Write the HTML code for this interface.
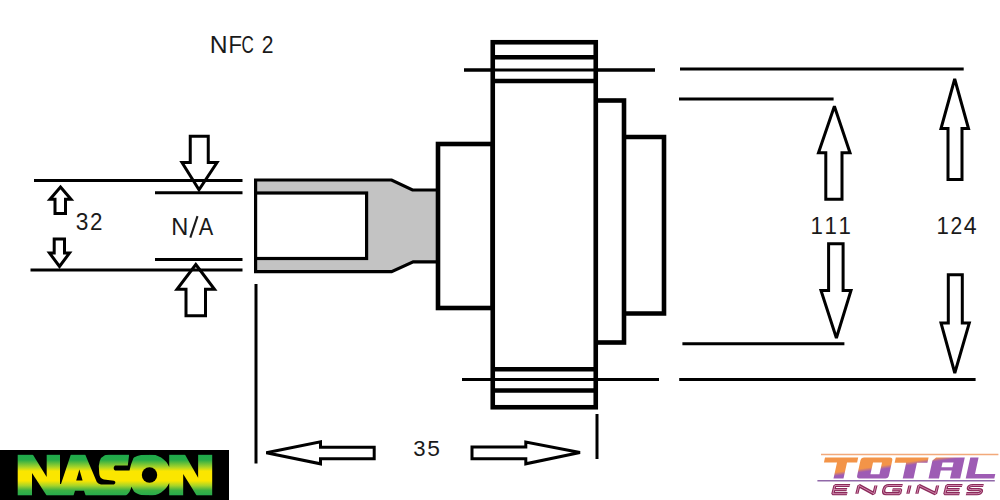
<!DOCTYPE html>
<html>
<head>
<meta charset="utf-8">
<style>
html,body{margin:0;padding:0;background:#fff;width:1000px;height:500px;overflow:hidden;}
svg{display:block;}
text{font-family:"Liberation Sans", sans-serif;fill:#1a1a1a;}
</style>
</head>
<body>
<svg width="1000" height="500" viewBox="0 0 1000 500">
<defs>
<linearGradient id="ng" gradientUnits="userSpaceOnUse" x1="0" y1="455" x2="0" y2="495.3">
<stop offset="0" stop-color="#1faa4c"/>
<stop offset="0.12" stop-color="#26ac48"/>
<stop offset="0.3" stop-color="#a8d428"/>
<stop offset="0.4" stop-color="#fbe600"/>
<stop offset="0.64" stop-color="#fbe600"/>
<stop offset="0.76" stop-color="#a8d428"/>
<stop offset="0.88" stop-color="#3cb044"/>
<stop offset="1" stop-color="#26aa4c"/>
</linearGradient>
<linearGradient id="tg" gradientUnits="userSpaceOnUse" x1="899.3" y1="454" x2="902.3" y2="474">
<stop offset="0" stop-color="#f39448"/>
<stop offset="0.42" stop-color="#f39448"/>
<stop offset="0.6" stop-color="#9e5cb4"/>
<stop offset="1" stop-color="#9e5cb4"/>
</linearGradient>
</defs>

<!-- text labels -->
<text x="209.77" y="53.37" font-size="23.7" textLength="17.84" lengthAdjust="spacingAndGlyphs">N</text><text x="228.59" y="53.37" font-size="23.7" textLength="13.5" lengthAdjust="spacingAndGlyphs">F</text><text x="241.53" y="53.37" font-size="23.7" textLength="12.32" lengthAdjust="spacingAndGlyphs">C</text><text x="261.74" y="53.37" font-size="23.7" textLength="11.72" lengthAdjust="spacingAndGlyphs">2</text>
<text x="75.83" y="230.26" font-size="24.15" textLength="12.67" lengthAdjust="spacingAndGlyphs">3</text><text x="89.97" y="230.26" font-size="24.15" textLength="12.45" lengthAdjust="spacingAndGlyphs">2</text>
<text x="171.16" y="234.5" font-size="24.8" textLength="17.07" lengthAdjust="spacingAndGlyphs">N</text><line x1="190.3" y1="237.6" x2="197.5" y2="216.2" stroke="#1a1a1a" stroke-width="2.1"/><text x="198.86" y="234.5" font-size="24.8" textLength="14.48" lengthAdjust="spacingAndGlyphs">A</text>
<text x="413.16" y="455.88" font-size="22.9" textLength="12.32" lengthAdjust="spacingAndGlyphs">3</text><text x="427.19" y="455.88" font-size="22.9" textLength="12.67" lengthAdjust="spacingAndGlyphs">5</text>
<text x="810.50" y="234.3" font-size="24.6" textLength="12.38" lengthAdjust="spacingAndGlyphs">1</text><text x="824.60" y="234.3" font-size="24.6" textLength="12.38" lengthAdjust="spacingAndGlyphs">1</text><text x="838.40" y="234.3" font-size="24.6" textLength="12.38" lengthAdjust="spacingAndGlyphs">1</text>
<text x="936.40" y="234.3" font-size="24.5" textLength="12.38" lengthAdjust="spacingAndGlyphs">1</text><text x="950.54" y="234.3" font-size="24.5" textLength="11.72" lengthAdjust="spacingAndGlyphs">2</text><text x="963.67" y="234.3" font-size="24.5" textLength="12.91" lengthAdjust="spacingAndGlyphs">4</text>

<g fill="none" stroke="#000" stroke-linecap="butt">
<!-- left dimension lines -->
<line x1="34" y1="180.5" x2="242.5" y2="180.5" stroke-width="3"/>
<line x1="155" y1="192.8" x2="242.5" y2="192.8" stroke-width="3"/>
<line x1="155" y1="259.5" x2="242.5" y2="259.5" stroke-width="3"/>
<line x1="30.5" y1="270" x2="242.5" y2="270" stroke-width="3"/>

<!-- extension verticals -->
<line x1="256" y1="284" x2="256" y2="463.5" stroke-width="3"/>
<line x1="597" y1="414" x2="597" y2="459" stroke-width="3"/>

<!-- right dimension lines -->
<line x1="680" y1="69" x2="963.7" y2="69" stroke-width="3"/>
<line x1="679" y1="99" x2="833.6" y2="99" stroke-width="3"/>
<line x1="682.4" y1="343.7" x2="844.4" y2="343.7" stroke-width="3"/>
<line x1="679.2" y1="379.5" x2="975.6" y2="379.5" stroke-width="3"/>

<!-- flange extension thin lines -->
<line x1="464" y1="70" x2="655" y2="70" stroke-width="3"/>
<line x1="462" y1="379.5" x2="659" y2="379.5" stroke-width="3"/>
</g>

<!-- gray shaft piece -->
<path d="M255.6,180 L391.6,180 L412.5,190 L438,190 L438,261.8 L413.2,261.8 L391.6,271.6 L255.6,271.6 Z" fill="#c3c3c3" stroke="#000" stroke-width="3.2" stroke-linejoin="miter"/>
<rect x="255.6" y="193" width="111" height="65.5" fill="#fff" stroke="#000" stroke-width="3.2"/>

<g fill="#fff" stroke="#000" stroke-width="4.6" stroke-linejoin="miter">
<!-- hub left -->
<rect x="438" y="144" width="54.75" height="164"/>
<!-- step 2 -->
<path d="M624,137 L664,137 L664,313.5 L624,313.5" />
<!-- step 1 -->
<rect x="595.75" y="100.5" width="28.25" height="242"/>
<!-- flange -->
<rect x="492.75" y="42.25" width="103" height="365"/>
</g>
<g stroke="#000" fill="none">
<line x1="492.75" y1="57.25" x2="595.75" y2="57.25" stroke-width="4.6"/>
<line x1="492.75" y1="81" x2="595.75" y2="81" stroke-width="4.6"/>
<line x1="492.75" y1="369.25" x2="595.75" y2="369.25" stroke-width="4.6"/>
<line x1="492.75" y1="390.5" x2="595.75" y2="390.5" stroke-width="4.6"/>
<line x1="464" y1="70" x2="655" y2="70" stroke-width="3"/>
<line x1="462" y1="379.5" x2="659" y2="379.5" stroke-width="3"/>
</g>

<!-- arrows -->
<g fill="none" stroke="#000" stroke-width="3" stroke-linejoin="miter" stroke-miterlimit="2.6">
<!-- big down arrow left -->
<path d="M190.25,136.25 L208.25,136.25 L208.25,162.6 L217,162.6 L199,189.8 L182,162.6 L190.25,162.6 Z"/>
<!-- big up arrow left -->
<path d="M195.8,264.5 L214.5,289.3 L205.5,289.3 L205.5,315.8 L186,315.8 L186,289.3 L177,289.3 Z"/>
<!-- small up arrow -->
<path d="M60.5,187 L71,199.3 L65.5,199.3 L65.5,213.5 L55,213.5 L55,199.3 L50,199.3 Z"/>
<!-- small down arrow -->
<path d="M54.2,239 L64.5,239 L64.5,253 L69.5,253 L59.5,266.5 L49.5,253 L54.2,253 Z"/>
<!-- 111 up -->
<path d="M834.4,106.3 L850,152.7 L842,152.7 L842,199.3 L825.8,199.3 L825.8,152.7 L818.5,152.7 Z"/>
<!-- 124 up -->
<path d="M954.7,79 L968.5,128.5 L962,128.5 L962,179.5 L948,179.5 L948,128.5 L941,128.5 Z"/>
<!-- 111 down -->
<path d="M828.6,243.7 L843.1,243.7 L843.1,290.5 L851,290.5 L836.4,338 L821,290.5 L828.6,290.5 Z"/>
<!-- 124 down -->
<path d="M948.3,274.7 L962.3,274.7 L962.3,323 L969.3,323 L954.8,373 L941,323 L948.3,323 Z"/>
<!-- left arrow -->
<path d="M266.3,452.8 L320.5,441.8 L320.5,447.2 L374.2,447.2 L374.2,458.8 L320.5,458.8 L320.5,463.8 Z"/>
<!-- right arrow -->
<path d="M472,447 L525.8,447 L525.8,442 L580,452.5 L525.8,463.8 L525.8,458.7 L472,458.7 Z"/>
</g>

<!-- NASON logo -->
<rect x="0" y="450" width="229" height="50" fill="#000"/>
<rect x="17.7" y="454.8" width="194.5" height="40.5" fill="url(#ng)"/>
<g fill="#000">
<path d="M32.5,454 H46.7 V477 Z"/>
<path d="M32,473 V496 H46.9 Z"/>
<path d="M60,454 H71 L61,484 H60 Z"/>
<path d="M79.4,469.5 L82.6,480.5 H76.2 Z"/>
<path d="M75,490.7 H84 L85.8,496 H73.4 Z"/>
<path d="M85,454 H109 Q99.5,455 98.8,466 L99.3,474 Q99.8,478.5 104,479.5 L114,480.8 Q116.8,482.4 114,484.4 L101,484.4 Q98,484 96.8,482 Z"/>
<path d="M129,454 H149 V454.4 C141,454.4 135.5,456 133.5,458 L131,464.4 L129.5,470.6 H115 Q112.3,468 115,465.4 H127.8 L129,455.8 Z"/>
<path d="M125,496 H149 V495.6 C141,495.6 136,493.8 134,491.5 L131.3,486.8 Q130.5,492.5 125.5,496 Z"/>
<path d="M149,454 H169.2 V466.9 A21.5,20.8 0 0,0 149,454.2 Z"/>
<path d="M149,496 H169.2 V483.1 A21.5,20.8 0 0,1 149,495.8 Z"/>
<circle cx="149.5" cy="475" r="7.7"/>
<path d="M184.7,454 H198.1 V477.8 Z"/>
<path d="M183.2,474 V496 H196.9 Z"/>
</g>

<!-- TOTAL ENGINES logo -->
<line x1="821" y1="454.4" x2="998.4" y2="454.4" stroke="#f2a97a" stroke-width="1.5"/>
<g transform="matrix(1,0,-0.22,1,105.27,0)" fill="url(#tg)">
<path d="M820.4,457.6 H853.6 V462.5 H843.5 V478.5 H833.5 V462.5 H820.4 Z"/>
<path fill-rule="evenodd" d="M859.5,457.6 H885.3 Q888.3,457.6 888.3,460.6 V475.5 Q888.3,478.5 885.3,478.5 H859.5 Q856.5,478.5 856.5,475.5 V460.6 Q856.5,457.6 859.5,457.6 Z M869.5,462.5 V474.3 H878.5 V462.5 Z"/>
<path d="M891.2,457.6 H924 V462.8 H913.5 V478.5 H902.7 V462.8 H891.2 Z"/>
<path fill-rule="evenodd" d="M931.5,457.6 H960.2 V478.5 H950 V470.4 H939 V478.5 H928.5 V460.6 Z M939,462.4 V467.2 H950 V462.4 Z"/>
<path d="M965.7,457.6 H974 V474 H994.3 V478.5 H965.7 Z"/>
</g>
<line x1="817.4" y1="480.8" x2="994.8" y2="480.8" stroke="#9068a8" stroke-width="1.6"/>
<g transform="matrix(1,0,-0.25,1,123.8,0)" fill="none" stroke-linejoin="miter" stroke-miterlimit="1.4">
<path d="M847.4,485.5 H832.5 V493.7 H846.8 M832.5,489.6 H845.5 M856.5,493.7 V485.5 L873.5,493.7 V485.5 M900,485.5 H886 Q882.5,485.5 882.5,489 V490.2 Q882.5,493.7 886,493.7 H899.3 V489.8 H891 M907.5,485.5 V493.7 M916.5,493.7 V485.5 L935.2,493.7 V485.5 M959.8,485.5 H944.5 V493.7 H959.2 M944.5,489.6 H958 M981,485.5 H970 Q966.5,485.5 966.5,487.5 Q966.5,489.6 970,489.6 H977 Q980.5,489.6 980.5,491.6 Q980.5,493.7 977,493.7 H965.8" stroke="#8b2a5a" stroke-width="3.2"/>
<path d="M847.4,485.5 H832.5 V493.7 H846.8 M832.5,489.6 H845.5 M856.5,493.7 V485.5 L873.5,493.7 V485.5 M900,485.5 H886 Q882.5,485.5 882.5,489 V490.2 Q882.5,493.7 886,493.7 H899.3 V489.8 H891 M907.5,485.5 V493.7 M916.5,493.7 V485.5 L935.2,493.7 V485.5 M959.8,485.5 H944.5 V493.7 H959.2 M944.5,489.6 H958 M981,485.5 H970 Q966.5,485.5 966.5,487.5 Q966.5,489.6 970,489.6 H977 Q980.5,489.6 980.5,491.6 Q980.5,493.7 977,493.7 H965.8" stroke="#e8aacb" stroke-width="0.7"/>
</g>
</svg>
</body>
</html>
